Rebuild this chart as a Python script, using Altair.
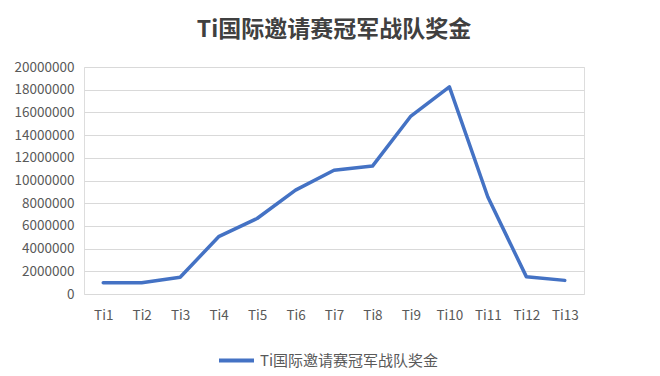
import altair as alt
import pandas as pd

categories = ["Ti1", "Ti2", "Ti3", "Ti4", "Ti5", "Ti6", "Ti7", "Ti8", "Ti9", "Ti10", "Ti11", "Ti12", "Ti13"]
values = [1000000, 1000000, 1470000, 5050000, 6650000, 9150000, 10900000, 11270000, 15680000, 18250000, 8550000, 1530000, 1200000]
series_name = "Ti国际邀请赛冠军战队奖金"
y_ticks = list(range(0, 20000001, 2000000))

df = pd.DataFrame({"cat": categories, "val": values, "series": [series_name] * len(categories)})

font = "Noto Sans CJK SC"

chart = alt.Chart(df).mark_line(strokeWidth=3.5, strokeCap="round", strokeJoin="round").encode(
    x=alt.X("cat:O", sort=categories, title=None,
            axis=alt.Axis(labelAngle=0, ticks=False, domain=False, grid=False,
                          labelFontSize=13.5, labelColor="#595959", labelFont=font, labelPadding=14)),
    y=alt.Y("val:Q", title=None, scale=alt.Scale(domain=[0, 20000000], nice=False),
            axis=alt.Axis(values=y_ticks, format="d", ticks=False, domain=False,
                          gridColor="#d9d9d9", gridWidth=1,
                          labelFontSize=13.5, labelColor="#595959", labelFont=font, labelPadding=10)),
    color=alt.Color("series:N", scale=alt.Scale(range=["#4472C4"]),
                    legend=alt.Legend(title=None, orient="none", legendX=133, legendY=274,
                                      symbolType="stroke", symbolSize=1225, symbolStrokeWidth=4,
                                      labelFontSize=15, labelColor="#595959", labelFont=font,
                                      labelOffset=4, labelLimit=400)),
).properties(
    width=500, height=227,
    title=alt.TitleParams(series_name, fontSize=23, font=font, fontWeight="bold",
                          color="#404040", offset=18, anchor="middle"),
    autosize=alt.AutoSizeParams(type="none"),
    padding={"left": 76, "top": 59, "right": 60, "bottom": 74},
).configure_view(stroke=None).configure(background="white")

chart.save("out.html", embed_options={"renderer": "svg", "actions": False})
